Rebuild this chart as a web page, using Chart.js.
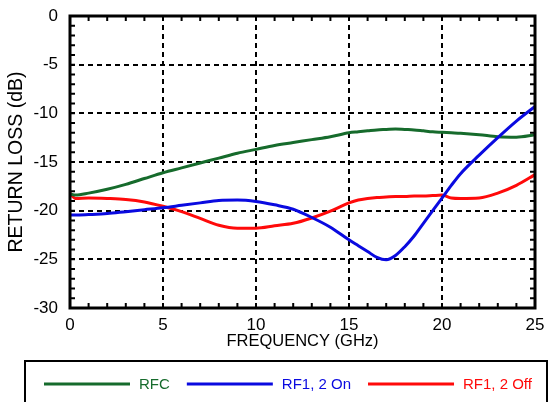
<!DOCTYPE html>
<html>
<head>
<meta charset="utf-8">
<script src="https://cdn.jsdelivr.net/npm/chart.js@4.4.0/dist/chart.umd.min.js"></script>
<style>
html,body{margin:0;padding:0;background:#fff;}
#wrap{width:548px;height:402px;position:relative;}
</style>
</head>
<body>
<div id="wrap"><canvas id="c"></canvas></div>
<script>
// ---- data ----
const freqGHz     = [0, 0.3, 1, 2, 3, 4, 5, 6, 7, 8, 9, 10, 11, 12, 13, 14, 15, 15.5, 16, 16.5, 17, 17.5, 18, 18.5, 19, 19.5, 20, 20.5, 21, 22, 23, 24, 25];
const rfcLoss     = [-18.3, -18.4, -18.2, -17.8, -17.3, -16.7, -16.1, -15.6, -15.1, -14.6, -14.1, -13.7, -13.3, -13.0, -12.7, -12.4, -12.0, -11.9, -11.8, -11.7, -11.65, -11.6, -11.65, -11.7, -11.8, -11.9, -11.95, -12.0, -12.05, -12.2, -12.4, -12.45, -12.2];
const rf12OnLoss  = [-20.45, -20.45, -20.4, -20.3, -20.1, -19.9, -19.7, -19.45, -19.2, -18.95, -18.9, -19.05, -19.4, -19.85, -20.7, -21.7, -23.0, -23.6, -24.2, -24.8, -25.05, -24.6, -23.7, -22.6, -21.3, -20.0, -18.7, -17.4, -16.2, -14.3, -12.5, -10.8, -9.3];
const rf12OffLoss = [-18.2, -18.75, -18.7, -18.75, -18.85, -19.1, -19.55, -20.1, -20.8, -21.5, -21.8, -21.8, -21.55, -21.3, -20.75, -20.05, -19.2, -18.9, -18.75, -18.65, -18.6, -18.55, -18.55, -18.5, -18.5, -18.45, -18.4, -18.7, -18.75, -18.7, -18.2, -17.4, -16.3];
const seriesNames = ['RFC', 'RF1, 2 On', 'RF1, 2 Off'];
const seriesColors = ['#166b2c', '#0a0ae0', '#ff0a0a'];
const xTickValues = [0, 5, 10, 15, 20, 25];
const yTickValues = [0, -5, -10, -15, -20, -25, -30];
const xTitle = 'FREQUENCY (GHz)';
const yTitle = 'RETURN LOSS (dB)';

const toPoints = arr => arr.map((v, i) => ({x: freqGHz[i], y: v}));
const seriesValues = [rfcLoss, rf12OnLoss, rf12OffLoss];
const drawOrder = [1, 0, 2]; // blue drawn on top

const FONT = '"Liberation Sans", Arial, sans-serif';
Chart.defaults.font.family = FONT;
Chart.defaults.color = '#000';

const LEGEND_H = 42;
const framePlugin = {
  id: 'frame',
  afterDraw(chart) {
    const {ctx, chartArea: a, scales: {x, y}} = chart;
    ctx.save();
    ctx.strokeStyle = '#000';
    ctx.lineWidth = 2;
    ctx.beginPath();
    for (let f = x.min; f <= x.max; f += 1) {
      const px = x.getPixelForValue(f);
      ctx.moveTo(px, a.top); ctx.lineTo(px, a.top + 5);
      ctx.moveTo(px, a.bottom); ctx.lineTo(px, a.bottom - 5);
    }
    for (let v = y.min; v <= y.max; v += 1) {
      const py = y.getPixelForValue(v);
      ctx.moveTo(a.left, py); ctx.lineTo(a.left + 5, py);
      ctx.moveTo(a.right, py); ctx.lineTo(a.right - 5, py);
    }
    ctx.stroke();
    ctx.lineWidth = 3;
    ctx.strokeRect(a.left, a.top, a.right - a.left, a.bottom - a.top);

    // legend box
    const lgLeft = 24, lgTop = chart.height - LEGEND_H;
    ctx.lineWidth = 2;
    ctx.strokeRect(lgLeft + 1, lgTop + 1, chart.width - lgLeft - 2, 100);
    ctx.font = '15px ' + FONT;
    ctx.textBaseline = 'middle';
    ctx.textAlign = 'left';
    let cx = lgLeft + 20;
    const cy = lgTop + 24;
    chart.data.datasets.forEach(ds => {
      ctx.fillStyle = ds.borderColor;
      ctx.fillRect(cx, cy - 1.5, 86, 3);
      cx += 86 + 9;
      ctx.fillText(ds.label, cx, cy + 0.5);
      cx += ctx.measureText(ds.label).width + 17;
    });
    ctx.restore();
  }
};

new Chart(document.getElementById('c'), {
  type: 'line',
  data: {
    datasets: seriesNames.map((name, i) => ({
      label: name,
      data: toPoints(seriesValues[i]),
      borderColor: seriesColors[i],
      backgroundColor: seriesColors[i],
      borderWidth: 3,
      pointRadius: 0,
      fill: false,
      cubicInterpolationMode: 'monotone',
      order: drawOrder[i]
    }))
  },
  options: {
    responsive: true,
    maintainAspectRatio: false,
    animation: false,
    layout: {padding: {top: 16, right: 13, left: 0, bottom: LEGEND_H}},
    plugins: {
      tooltip: {enabled: false},
      legend: {display: false}
    },
    scales: {
      x: {
        type: 'linear',
        min: 0, max: 25,
        afterBuildTicks: s => { s.ticks = xTickValues.map(v => ({value: v})); },
        afterFit: s => { s.height = 52; s.paddingLeft = 0; s.paddingRight = 0; },
        grid: {color: '#000', lineWidth: 2, drawTicks: false},
        border: {display: false, dash: [5, 4]},
        ticks: {color: '#000', font: {size: 17}, padding: 7, maxRotation: 0},
        title: {display: true, text: xTitle, color: '#000', font: {size: 16.5}, padding: {top: 9, bottom: 9}}
      },
      y: {
        type: 'linear',
        min: -30, max: 0,
        afterBuildTicks: s => { s.ticks = yTickValues.map(v => ({value: v})); },
        afterFit: s => { s.width = 70; s.paddingTop = 0; s.paddingBottom = 0; },
        grid: {color: '#000', lineWidth: 2, drawTicks: false},
        border: {display: false, dash: [5, 4]},
        ticks: {color: '#000', font: {size: 17}, padding: 12},
        title: {display: true, text: yTitle, color: '#000', font: {size: 19.5}, padding: {top: 5, bottom: 5}}
      }
    }
  },
  plugins: [framePlugin]
});
</script>
</body>
</html>
